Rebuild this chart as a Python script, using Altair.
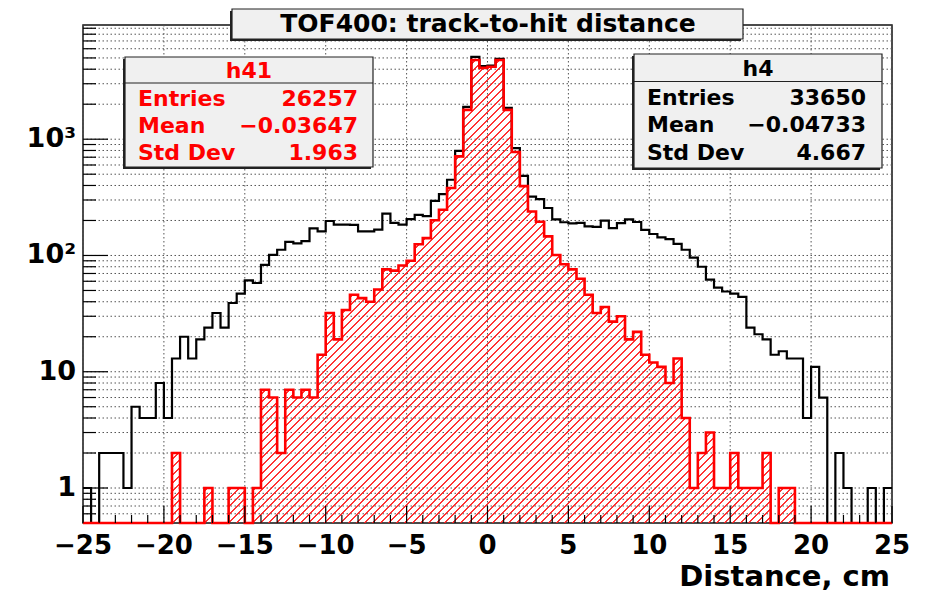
import math
import altair as alt
import pandas as pd

# ---------------- data ----------------
X_RANGE = [-25.0, 25.0]
BIN_WIDTH = 0.5
Y_RANGE = [0.5, 9600.0]

# h4 (black), 100 bins of 0.5 cm from -25 to 25
h4_counts = [1, 0, 2, 2, 2, 1, 5, 4, 4, 8,
             4, 13, 20, 13, 19, 24, 32, 24, 39, 47,
             61, 58, 83, 101, 112, 131, 127, 133, 171, 161,
             198, 184, 184, 183, 161, 161, 167, 229, 191, 184,
             205, 223, 218, 295, 337, 448, 795, 1900, 5116, 4245,
             4305, 4912, 1858, 839, 484, 321, 305, 256, 204, 193,
             189, 191, 178, 176, 199, 172, 190, 204, 194, 166,
             153, 143, 138, 126, 112, 96, 80, 62, 53, 49,
             47, 44, 24, 21, 19, 14, 15, 13, 13, 4,
             11, 6, 0, 2, 1, 0, 0, 1, 0, 1]

# h41 (red, hatched)
h41_counts = [0, 0, 0, 0, 0, 0, 0, 0, 0, 0,
              0, 2, 0, 0, 0, 1, 0, 0, 1, 1,
              0, 1, 7, 6, 2, 7, 6, 7, 6, 14,
              32, 19, 34, 46, 43, 40, 51, 76, 74, 82,
              90, 125, 141, 201, 247, 380, 712, 1788, 4800, 4110,
              4200, 4800, 1788, 776, 395, 239, 195, 146, 101, 84,
              76, 63, 46, 32, 36, 27, 30, 19, 22, 14,
              12, 11, 8, 13, 4, 1, 2, 3, 1, 1,
              2, 1, 1, 1, 2, 0, 1, 1, 0, 0,
              0, 0, 0, 0, 0, 0, 0, 0, 0, 0]

title_text = "TOF400: track-to-hit distance"
x_title = "Distance, cm"
stats_h41 = ["h41", ("Entries", "26257"), ("Mean", "\u22120.03647"), ("Std Dev", "1.963")]
stats_h4 = ["h4", ("Entries", "33650"), ("Mean", "\u22120.04733"), ("Std Dev", "4.667")]

x_major_ticks = [-25, -20, -15, -10, -5, 0, 5, 10, 15, 20, 25]
x_tick_labels = ["\u221225", "\u221220", "\u221215", "\u221210", "\u22125", "0", "5", "10", "15", "20", "25"]
x_minor_ticks = [v for v in range(-24, 25) if v % 5 != 0]
y_major_ticks = [1, 10, 100, 1000]
y_tick_labels = ["1", "10", "10\u00b2", "10\u00b3"]
y_minor_ticks = ([0.6, 0.7, 0.8, 0.9] + [2, 3, 4, 5, 6, 7, 8, 9] + [20, 30, 40, 50, 60, 70, 80, 90]
                 + [200, 300, 400, 500, 600, 700, 800, 900]
                 + [2000, 3000, 4000, 5000, 6000, 7000, 8000, 9000])

# ---------------- layout / style ----------------
W, H = 809, 498
FONT = "DejaVu Sans"
RED = "#ff0000"


def hist_df(counts):
    edges = [X_RANGE[0] + BIN_WIDTH * i for i in range(len(counts) + 1)]
    rows = [{"x": edges[i], "count": c} for i, c in enumerate(counts)]
    rows.append({"x": edges[-1], "count": counts[-1]})
    return pd.DataFrame(rows)


xscale = alt.Scale(domain=X_RANGE, nice=False, zero=False)
yscale = alt.Scale(type="log", domain=Y_RANGE, nice=False)

# hatch gradient (/// lines) for the red histogram fill
ly0, ly1 = math.log10(Y_RANGE[0]), math.log10(Y_RANGE[1])
area_h = H * (math.log10(max(h41_counts)) - ly0) / (ly1 - ly0)
L = W + area_h
k = L / (W + area_h * area_h / W)
spacing, thick = 8.0, 1.3
HATCH = "rgba(255,30,30,0.9)"
clear = "rgba(255,0,0,0)"
stops = []
j = 0
while j * spacing < L:
    a = j * spacing / L
    b = min((j * spacing + thick) / L, 1.0)
    stops.append(alt.GradientStop(offset=a, color=HATCH))
    stops.append(alt.GradientStop(offset=b, color=HATCH))
    stops.append(alt.GradientStop(offset=b, color=clear))
    nxt = min((j + 1) * spacing / L, 1.0)
    stops.append(alt.GradientStop(offset=nxt, color=clear))
    j += 1
hatch = alt.LinearGradient(gradient="linear", stops=stops, x1=0, y1=0, x2=k, y2=k * area_h / W)

df4 = hist_df(h4_counts)
df41 = hist_df(h41_counts)

layers = []

# grid lines (dotted)
layers.append(alt.Chart(pd.DataFrame({"v": x_major_ticks})).mark_rule(
    color="#555", strokeWidth=1, strokeDash=[1.5, 2.5]).encode(
    x=alt.X("v:Q", scale=xscale, axis=None)))
layers.append(alt.Chart(pd.DataFrame({"v": y_major_ticks + y_minor_ticks})).mark_rule(
    color="#555", strokeWidth=1, strokeDash=[1.5, 2.5]).encode(
    y=alt.Y("v:Q", scale=yscale, axis=None)))

# red hatched area
layers.append(alt.Chart(df41).transform_calculate(yv="max(datum.count, 0.5)").mark_area(
    interpolate="step-after", fill=hatch, fillOpacity=1, strokeWidth=0).encode(
    x=alt.X("x:Q", scale=xscale, axis=None),
    y=alt.Y("yv:Q", scale=yscale, axis=None),
    y2=alt.datum(Y_RANGE[0])))

# black histogram
layers.append(alt.Chart(df4).transform_calculate(yv="max(datum.count, 0.5)").mark_line(
    interpolate="step-after", color="black", strokeWidth=2.2).encode(
    x=alt.X("x:Q", scale=xscale, axis=None),
    y=alt.Y("yv:Q", scale=yscale, axis=None)))

# red histogram outline
layers.append(alt.Chart(df41).transform_calculate(yv="max(datum.count, 0.5)").mark_line(
    interpolate="step-after", color=RED, strokeWidth=2.6).encode(
    x=alt.X("x:Q", scale=xscale, axis=None),
    y=alt.Y("yv:Q", scale=yscale, axis=None)))

# inward ticks
layers.append(alt.Chart(pd.DataFrame({"v": x_major_ticks})).mark_rule(color="black", strokeWidth=1.2).encode(
    x=alt.X("v:Q", scale=xscale, axis=None), y=alt.value(H), y2=alt.value(H - 17)))
layers.append(alt.Chart(pd.DataFrame({"v": x_minor_ticks})).mark_rule(color="black", strokeWidth=1.2).encode(
    x=alt.X("v:Q", scale=xscale, axis=None), y=alt.value(H), y2=alt.value(H - 8)))
layers.append(alt.Chart(pd.DataFrame({"v": y_major_ticks})).mark_rule(color="black", strokeWidth=1.2).encode(
    y=alt.Y("v:Q", scale=yscale, axis=None), x=alt.value(0), x2=alt.value(25)))
layers.append(alt.Chart(pd.DataFrame({"v": y_minor_ticks})).mark_rule(color="black", strokeWidth=1.2).encode(
    y=alt.Y("v:Q", scale=yscale, axis=None), x=alt.value(0), x2=alt.value(13)))

# tick labels (through the scales)
layers.append(alt.Chart(pd.DataFrame({"v": x_major_ticks, "t": x_tick_labels})).mark_text(
    align="center", baseline="alphabetic", font=FONT, fontWeight="bold", fontSize=26, color="black").encode(
    x=alt.X("v:Q", scale=xscale, axis=None), y=alt.value(H + 31), text="t:N"))
layers.append(alt.Chart(pd.DataFrame({"v": y_major_ticks, "t": y_tick_labels})).mark_text(
    align="right", baseline="middle", font=FONT, fontWeight="bold", fontSize=27, color="black").encode(
    y=alt.Y("v:Q", scale=yscale, axis=None), x=alt.value(-7), text="t:N"))

one = pd.DataFrame({"k": [0]})


def box(x0, y0, x1, y1):
    shadow = alt.Chart(one).mark_rect(color="#222").encode(
        x=alt.value(x0 - 2), x2=alt.value(x1 - 2), y=alt.value(y0 + 2), y2=alt.value(y1 + 2))
    body = alt.Chart(one).mark_rect(fill="#f0f0f0", stroke="#222", strokeWidth=1.2).encode(
        x=alt.value(x0), x2=alt.value(x1), y=alt.value(y0), y2=alt.value(y1))
    return [shadow, body]


def txt(s, x, y, align, color, size, baseline="middle"):
    return alt.Chart(pd.DataFrame({"t": [s]})).mark_text(
        align=align, baseline=baseline, font=FONT, fontWeight="bold", fontSize=size, color=color).encode(
        x=alt.value(x), y=alt.value(y), text="t:N")


def stats_box(stats, x0, y0, x1, y1, ysep, yhead, rows_y, xl, xr, color):
    out = box(x0, y0, x1, y1)
    out.append(alt.Chart(one).mark_rule(color="#222", strokeWidth=1.2).encode(
        x=alt.value(x0), x2=alt.value(x1), y=alt.value(ysep)))
    out.append(txt(stats[0], (x0 + x1) / 2, yhead, "center", color, 22))
    for (lab, val), yy in zip(stats[1:], rows_y):
        out.append(txt(lab, xl, yy, "left", color, 22))
        out.append(txt(val, xr, yy, "right", color, 22))
    return out


# axis title
layers.append(txt(x_title, W - 2, H + 63, "right", "black", 29, baseline="alphabetic"))

# title box
layers += box(149, -16, 660, 14)
layers.append(txt(title_text, 405, -1, "center", "black", 25))

# stat boxes
layers += stats_box(stats_h41, 42, 32, 290, 142, 58, 46, [74, 101, 128], 55, 275, RED)
layers += stats_box(stats_h4, 551, 29, 799, 143, 56.5, 44, [72.5, 100, 127.5], 564, 783, "black")

chart = alt.layer(*layers).properties(
    width=W, height=H,
    autosize=alt.AutoSizeParams(type="none"),
    padding={"left": 75, "top": 17, "right": 25, "bottom": 70},
).configure(background="white").configure_view(stroke="#111", strokeWidth=1.5)

chart.save("out.html", embed_options={"renderer": "svg", "actions": False})
